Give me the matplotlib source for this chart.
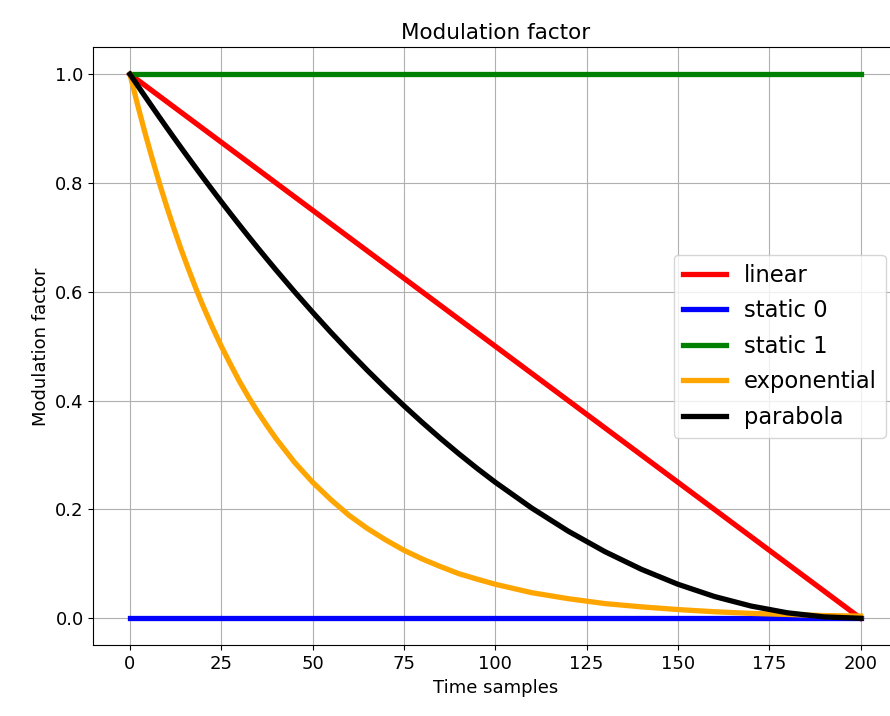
import matplotlib
matplotlib.use("Agg")
import matplotlib.pyplot as plt

t = [0, 2, 4, 6, 8, 10, 12, 14, 16, 18, 20, 22.5, 25, 27.5, 30, 32.5, 35, 37.5,
     40, 45, 50, 55, 60, 65, 70, 75, 80, 85, 90, 95, 100, 110, 120, 130, 140,
     150, 160, 170, 180, 190, 200]

linear = [1.0, 0.99, 0.98, 0.97, 0.96, 0.95, 0.94, 0.93, 0.92, 0.91, 0.9, 0.8875,
          0.875, 0.8625, 0.85, 0.8375, 0.825, 0.8125, 0.8, 0.775, 0.75, 0.725,
          0.7, 0.675, 0.65, 0.625, 0.6, 0.575, 0.55, 0.525, 0.5, 0.45, 0.4, 0.35,
          0.3, 0.25, 0.2, 0.15, 0.1, 0.05, 0.0]
static0 = [0.0] * len(t)
static1 = [1.0] * len(t)
exponential = [1.0, 0.946, 0.895, 0.847, 0.801, 0.758, 0.717, 0.678, 0.642,
               0.607, 0.574, 0.536, 0.5, 0.467, 0.435, 0.406, 0.379, 0.354,
               0.330, 0.287, 0.25, 0.218, 0.189, 0.165, 0.144, 0.125, 0.109,
               0.095, 0.082, 0.072, 0.0625, 0.047, 0.036, 0.027, 0.021, 0.016,
               0.012, 0.009, 0.007, 0.005, 0.004]
parabola = [1.0, 0.9801, 0.9604, 0.9409, 0.9216, 0.9025, 0.8836, 0.8649, 0.8464,
            0.8281, 0.81, 0.7877, 0.7656, 0.7439, 0.7225, 0.7014, 0.6806, 0.6602,
            0.64, 0.6006, 0.5625, 0.5256, 0.49, 0.4556, 0.4225, 0.3906, 0.36,
            0.3306, 0.3025, 0.2756, 0.25, 0.2025, 0.16, 0.1225, 0.09, 0.0625,
            0.04, 0.0225, 0.01, 0.0025, 0.0]

series = [
    ("linear", linear, "red"),
    ("static 0", static0, "blue"),
    ("static 1", static1, "green"),
    ("exponential", exponential, "orange"),
    ("parabola", parabola, "black"),
]

plt.rcParams["font.size"] = 13

fig = plt.figure(figsize=(8.9, 7.16), dpi=100)
ax = fig.add_axes([0.105, 0.0985, 0.903, 0.8358])

for label, values, color in series:
    ax.plot(t, values, color=color, lw=3.8, label=label)

ax.set_title("Modulation factor", fontsize=15.5)
ax.set_xlabel("Time samples")
ax.set_ylabel("Modulation factor")
ax.grid(True)
ax.legend(loc="center right", fontsize=16.3, labelspacing=0.55,
          handlelength=1.9)

fig.savefig("out.png", dpi=100)
